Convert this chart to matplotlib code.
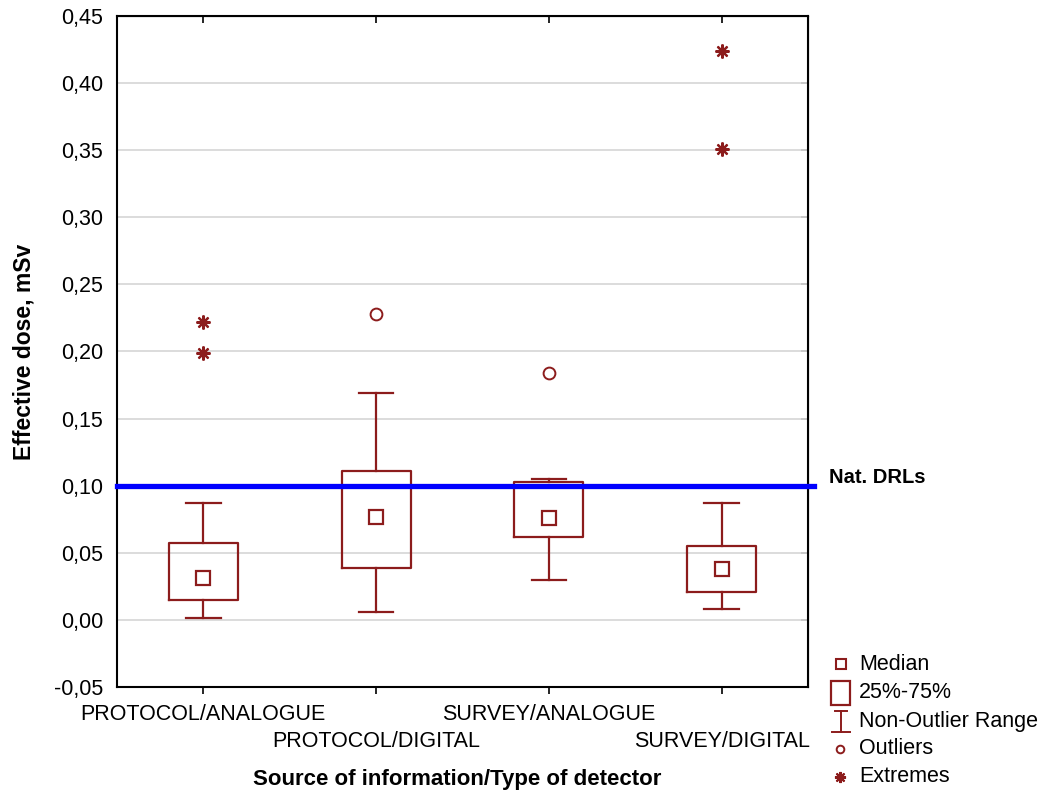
import numpy as np
import matplotlib
matplotlib.use("Agg")
import matplotlib.pyplot as plt
from matplotlib.patches import Rectangle

plt.rcParams['font.family'] = ['Liberation Sans', 'DejaVu Sans']

# data (mSv)
categories = ['PROTOCOL/ANALOGUE', 'PROTOCOL/DIGITAL', 'SURVEY/ANALOGUE', 'SURVEY/DIGITAL']
whisk_lo = [0.0015, 0.006, 0.030, 0.008]
q1 = [0.015, 0.039, 0.062, 0.021]
medians = [0.031, 0.077, 0.076, 0.038]
q3 = [0.057, 0.111, 0.103, 0.055]
whisk_hi = [0.087, 0.169, 0.105, 0.087]
outliers = [[], [0.228], [0.184], []]
extremes = [[0.222, 0.199], [], [], [0.424, 0.351]]
drl = 0.10

red = '#8c1c1c'
pos = np.arange(1, len(categories) + 1)

fig = plt.figure(figsize=(10.58, 7.92), dpi=100)
ax = fig.add_axes([117/1058, 1 - 687/792, 691/1058, 671/792])

stats = []
for i in range(len(categories)):
    stats.append(dict(whislo=whisk_lo[i], q1=q1[i], med=medians[i],
                      q3=q3[i], whishi=whisk_hi[i], fliers=[]))
ax.bxp(stats, positions=pos, widths=0.4, showfliers=False,
       boxprops=dict(color=red, lw=1.6),
       whiskerprops=dict(color=red, lw=1.6),
       capprops=dict(color=red, lw=1.6),
       medianprops=dict(lw=0), capwidths=0.2, zorder=3)
ax.plot(pos, medians, 's', ms=9.5, mfc='white', mec=red, mew=1.6, zorder=4, ls='none')

for i, vals in enumerate(outliers):
    if vals:
        ax.plot([pos[i]] * len(vals), vals, 'o', ms=8.5, mfc='white', mec=red, mew=1.4, ls='none', zorder=4)
for i, vals in enumerate(extremes):
    if vals:
        ax.plot([pos[i]] * len(vals), vals, marker=(8, 2, 0), ms=10, color=red, mew=1.6, ls='none', zorder=4)

# national DRL line (runs a little past the frame, like the original)
ax.axhline(drl, xmin=0, xmax=1.008, color='#0000ff', lw=3.8, zorder=5, clip_on=False)
ax.text(4.62, drl + 0.006, 'Nat. DRLs', fontsize=14.5, fontweight='bold', va='center', ha='left')

ax.set_xlim(0.5, 4.5)
ax.set_ylim(-0.05, 0.45)
yt = np.arange(-0.05, 0.451, 0.05)
ax.set_yticks(yt)
ax.set_yticklabels([('%.2f' % v).replace('.', ',') for v in yt], fontsize=15.5)
ax.yaxis.grid(True, color='#d9d9d9', lw=1.3)
ax.set_axisbelow(True)
ax.set_xticks(pos)
ax.set_xticklabels(categories, fontsize=15.5)
ax.tick_params(axis='x', direction='out', length=5, width=1.2, pad=7)
ax.tick_params(axis='y', length=0, pad=10)
# staggered category labels
for i, t in enumerate(ax.xaxis.get_major_ticks()):
    if i % 2 == 1:
        t.set_pad(27)
for s in ax.spines.values():
    s.set_linewidth(1.5)

top = ax.secondary_xaxis('top')
top.set_xticks(pos)
top.tick_params(direction='in', length=5, width=1.2, labeltop=False)
right = ax.secondary_yaxis('right')
right.set_yticks(yt)
right.tick_params(direction='in', length=5, width=1.2, labelright=False)

ax.set_ylabel('Effective dose, mSv', fontsize=16.5, fontweight='bold')
ax.yaxis.set_label_coords(-0.118, 0.5)
ax.set_xlabel('Source of information/Type of detector', fontsize=16, fontweight='bold')
ax.xaxis.set_label_coords(0.493, -0.1215)

# legend drawn by hand in pixel coordinates
lg = fig.add_axes([0, 0, 1, 1], facecolor='none')
lg.set_xlim(0, 1058)
lg.set_ylim(792, 0)
lg.axis('off')
lg.plot(841, 664, 's', ms=7, mfc='white', mec=red, mew=1.5)
lg.add_patch(Rectangle((831, 681), 19, 24, fill=False, ec=red, lw=1.6))
lg.plot([841, 841], [711, 732], color=red, lw=1.4)
lg.plot([835, 847], [711, 711], color=red, lw=1.4)
lg.plot([832, 850], [732, 732], color=red, lw=1.4)
lg.plot(840, 749, 'o', ms=5.5, mfc='white', mec=red, mew=1.4)
lg.plot(840, 777, marker=(8, 2, 0), ms=8, color=red, mew=1.5)
labels = ['Median', '25%-75%', 'Non-Outlier Range', 'Outliers', 'Extremes']
ys = [664, 692, 721, 749, 777]
for t, y in zip(labels, ys):
    lg.text(859, y, t, fontsize=15.5, va='center', ha='left')

fig.savefig('out.png', dpi=100)
